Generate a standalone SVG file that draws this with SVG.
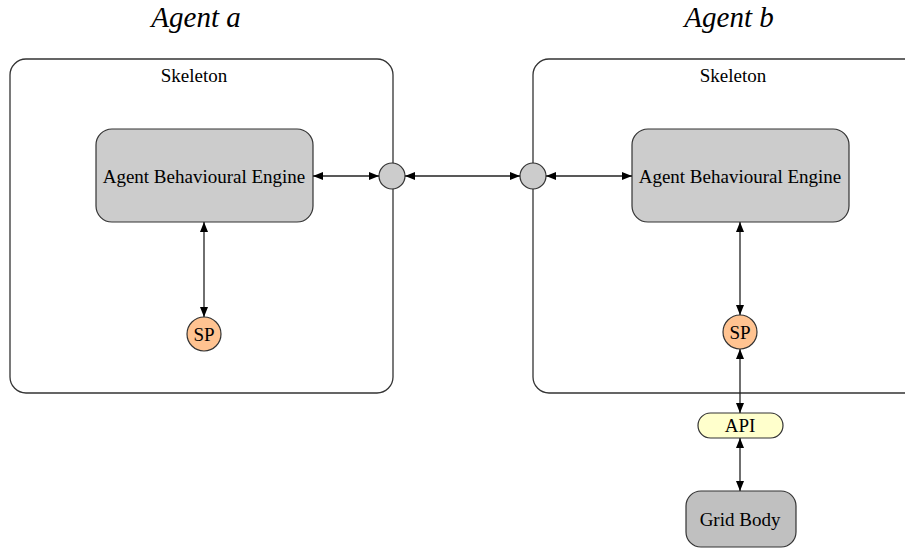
<svg xmlns="http://www.w3.org/2000/svg" width="905" height="549" viewBox="0 0 905 549">
  <style>
    text { font-family: "Liberation Serif", "Times New Roman", serif; fill: #000; text-anchor: middle; }
    .title { font-size: 29px; font-style: italic; }
    .lbl { font-size: 19px; }
    .skel { fill: #fff; stroke: #333; stroke-width: 1.3; }
    .engine { fill: #cccccc; stroke: #333; stroke-width: 1.2; }
    .port { fill: #cccccc; stroke: #333; stroke-width: 1.2; }
    .sp { fill: #ffc391; stroke: #333; stroke-width: 1.2; }
    .api { fill: #ffffcc; stroke: #333; stroke-width: 1.2; }
    .body { fill: #c0c0c0; stroke: #333; stroke-width: 1.2; }
    .link { stroke: #222; stroke-width: 1.3; fill: none; marker-start: url(#head); marker-end: url(#head); }
  </style>
  <defs>
    <marker id="head" viewBox="0 0 10 8" refX="10" refY="4" markerWidth="10" markerHeight="8" markerUnits="userSpaceOnUse" orient="auto-start-reverse">
      <path d="M0,0 L10,4 L0,8 Z" fill="#000"/>
    </marker>
  </defs>

  <rect width="905" height="549" fill="#fff"/>

  <text class="title" x="196" y="27">Agent a</text>
  <text class="title" x="729" y="27">Agent b</text>

  <g id="skeleton-a">
    <rect class="skel" x="10" y="59" width="383" height="334" rx="16"/>
    <text class="lbl" x="194" y="82">Skeleton</text>
  </g>
  <g id="skeleton-b">
    <rect class="skel" x="533" y="59" width="392" height="334" rx="16"/>
    <text class="lbl" x="733" y="82">Skeleton</text>
  </g>

  <g id="engine-a">
    <rect class="engine" x="96" y="129" width="217" height="93" rx="16"/>
    <text class="lbl" x="204" y="183">Agent Behavioural Engine</text>
  </g>
  <g id="engine-b">
    <rect class="engine" x="632" y="129" width="217" height="93" rx="16"/>
    <text class="lbl" x="740" y="183">Agent Behavioural Engine</text>
  </g>

  <g id="port-a">
    <circle class="port" cx="392" cy="176" r="13"/>
  </g>
  <g id="port-b">
    <circle class="port" cx="533" cy="176" r="13"/>
  </g>

  <g id="sp-a">
    <circle class="sp" cx="204" cy="334" r="17"/>
    <text class="lbl" x="204" y="341">SP</text>
  </g>
  <g id="sp-b">
    <circle class="sp" cx="740" cy="332" r="17"/>
    <text class="lbl" x="740" y="339">SP</text>
  </g>

  <g id="api">
    <rect class="api" x="698" y="413" width="85" height="25" rx="12.5"/>
    <text class="lbl" x="740" y="432">API</text>
  </g>

  <g id="grid-body">
    <rect class="body" x="686" y="491" width="110" height="56" rx="15"/>
    <text class="lbl" x="740" y="526">Grid Body</text>
  </g>

  <g id="connectors">
    <line class="link" x1="313" y1="176" x2="379" y2="176"/>
    <line class="link" x1="405" y1="176" x2="520" y2="176"/>
    <line class="link" x1="546" y1="176" x2="632" y2="176"/>
    <line class="link" x1="204" y1="222" x2="204" y2="317"/>
    <line class="link" x1="740" y1="222" x2="740" y2="315"/>
    <line class="link" x1="740" y1="349" x2="740" y2="413"/>
    <line class="link" x1="740" y1="438" x2="740" y2="491"/>
  </g>
</svg>
